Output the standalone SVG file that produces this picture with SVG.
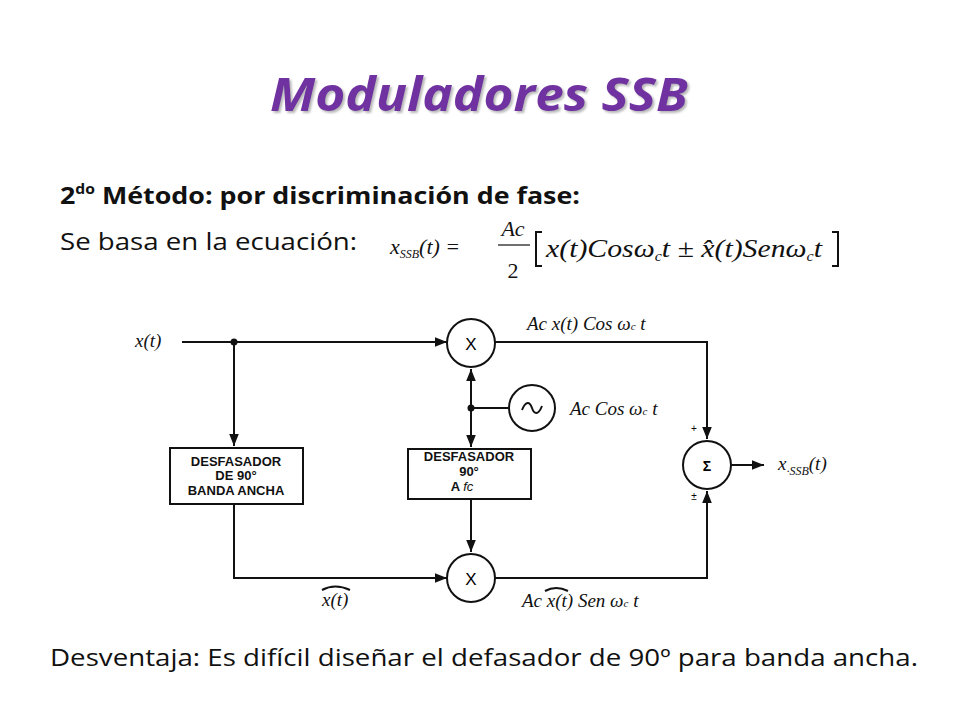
<svg xmlns="http://www.w3.org/2000/svg" width="960" height="720" viewBox="0 0 960 720">
<style>
.ln{stroke:#111;stroke-width:2;fill:none}
.cir{stroke:#111;stroke-width:2;fill:#fff}
.box{stroke:#111;stroke-width:2;fill:#fff}
.bt{font-family:"Liberation Sans",Arial,sans-serif;font-weight:bold;font-size:13px;text-anchor:middle;fill:#111}
.m{font-family:"Liberation Serif","Times New Roman",serif;font-style:italic;fill:#111}
.body{font-family:"Open Sans","Liberation Sans",sans-serif;font-size:24px;fill:#111}
</style>
<defs>
<marker id="a" viewBox="0 0 10 10" refX="10" refY="5" markerWidth="6" markerHeight="6" orient="auto"><path d="M0,1 L10,5 L0,9z" fill="#111"/></marker>
<filter id="sh" x="-5%" y="-20%" width="110%" height="140%"><feDropShadow dx="2" dy="2" stdDeviation="1" flood-color="#888" flood-opacity="0.6"/></filter>
</defs>
<rect width="960" height="720" fill="#fff"/>
<text x="270" y="111" textLength="418" lengthAdjust="spacingAndGlyphs" font-family="Open Sans,Liberation Sans,sans-serif" font-weight="bold" font-style="italic" font-size="46" fill="#7030A0" filter="url(#sh)">Moduladores SSB</text>
<text x="60" y="204" class="body" font-weight="bold" textLength="520" lengthAdjust="spacingAndGlyphs">2<tspan font-size="14" dy="-10">do</tspan><tspan dy="10"> Método: por discriminación de fase:</tspan></text>
<text x="60" y="250" class="body" textLength="297" lengthAdjust="spacingAndGlyphs">Se basa en la ecuación:</text>
<g id="equation">
<text x="390" y="254" class="m" font-size="22">x<tspan font-size="12" dy="4">SSB</tspan><tspan dy="-4">(t) =</tspan></text>
<text x="513" y="236" class="m" font-size="22" text-anchor="middle">Ac</text>
<line x1="498" y1="245" x2="530" y2="245" stroke="#111" stroke-width="1.2"/>
<text x="513" y="278" font-family="Liberation Serif,serif" font-size="22" text-anchor="middle" fill="#111">2</text>
<path d="M542,232 L536,232 L536,266 L542,266" class="ln" stroke-width="1.2"/>
<text x="546" y="257" class="m" font-size="26" textLength="276" lengthAdjust="spacingAndGlyphs">x(t)Cosω<tspan font-size="14" dy="4">c</tspan><tspan dy="-4">t ± x̂(t)Senω</tspan><tspan font-size="14" dy="4">c</tspan><tspan dy="-4">t</tspan></text>
<path d="M832,232 L838,232 L838,266 L832,266" class="ln" stroke-width="1.2"/>
</g>
<g id="connectors">
<path class="ln" d="M182,342 L447,342" marker-end="url(#a)"/>
<path class="ln" d="M234,342 L234,446" marker-end="url(#a)"/>
<path class="ln" d="M234,504 L234,578 L447,578" marker-end="url(#a)"/>
<path class="ln" d="M471,408 L471,369" marker-end="url(#a)"/>
<path class="ln" d="M471,408 L471,447" marker-end="url(#a)"/>
<path class="ln" d="M509,408 L471,408"/>
<path class="ln" d="M471,499 L471,552" marker-end="url(#a)"/>
<path class="ln" d="M495,342 L707,342 L707,439" marker-end="url(#a)"/>
<path class="ln" d="M495,578 L707,578 L707,491" marker-end="url(#a)"/>
<path class="ln" d="M731,465 L764,465" marker-end="url(#a)"/>
<circle cx="234" cy="342" r="3.5" fill="#111"/>
<circle cx="471" cy="408" r="3.5" fill="#111"/>
</g>
<g id="mult1"><circle class="cir" cx="471" cy="343" r="24"/><text x="471" y="350" font-family="Liberation Sans,sans-serif" font-size="17" text-anchor="middle">X</text></g>
<g id="mult2"><circle class="cir" cx="471" cy="578" r="24"/><text x="471" y="585" font-family="Liberation Sans,sans-serif" font-size="17" text-anchor="middle">X</text></g>
<g id="osc"><circle class="cir" cx="532" cy="408" r="23"/><path d="M522,410 C526,400 530,402 532,408 C534,414 538,416 542,406" class="ln" stroke-width="2.5"/></g>
<g id="sum"><circle class="cir" cx="707" cy="465" r="24"/><text x="707" y="471" font-family="Liberation Sans,sans-serif" font-size="14" text-anchor="middle" font-weight="bold">Σ</text>
<text x="694" y="432" font-family="Liberation Sans,sans-serif" font-size="10" text-anchor="middle">+</text>
<text x="694" y="500" font-family="Liberation Sans,sans-serif" font-size="10" text-anchor="middle">±</text></g>
<g id="shift1"><rect class="box" x="170" y="448" width="133" height="56"/>
<text class="bt" x="236" y="466">DESFASADOR</text><text class="bt" x="236" y="480">DE 90°</text><text class="bt" x="236" y="495">BANDA ANCHA</text></g>
<g id="shift2"><rect class="box" x="408" y="449" width="123" height="50"/>
<text class="bt" x="469" y="461" font-size="11">DESFASADOR</text><text class="bt" x="469" y="476" font-size="11">90°</text><text class="bt" x="462" y="491" font-size="11">A <tspan font-style="italic" font-weight="normal">fc</tspan></text></g>
<g id="labels">
<text x="135" y="347" class="m" font-size="19">x(t)</text>
<text x="527" y="330" class="m" font-size="19">Ac x(t) Cos ω<tspan font-size="11">c</tspan> t</text>
<text x="570" y="415" class="m" font-size="19">Ac Cos ω<tspan font-size="11">c</tspan> t</text>
<text x="778" y="470" class="m" font-size="19">x<tspan font-size="12" dy="5">·SSB</tspan><tspan dy="-5">(t)</tspan></text>
<text x="322" y="606" class="m" font-size="19">x(t)</text>
<path d="M322,590 Q335,583 350,590" class="ln" stroke-width="1"/>
<text x="522" y="607" class="m" font-size="19">Ac x(t) Sen ω<tspan font-size="11">c</tspan> t</text>
<path d="M545,591 Q556,585 568,591" class="ln" stroke-width="1"/>
</g>
<text x="50" y="666" class="body" textLength="868" lengthAdjust="spacingAndGlyphs">Desventaja: Es difícil diseñar el defasador de 90º para banda ancha.</text>
</svg>
